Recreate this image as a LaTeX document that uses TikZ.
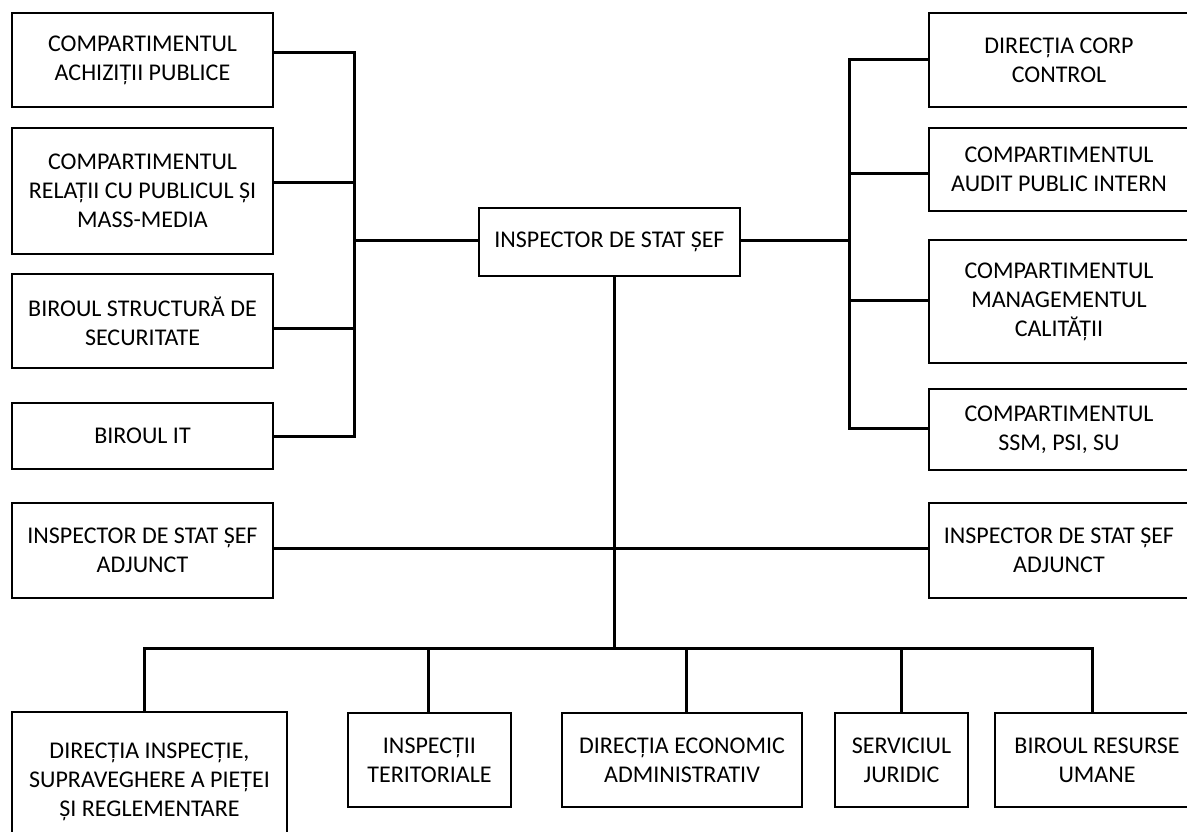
\documentclass[tikz,border=0pt]{standalone}
\usepackage{fontspec}
\setmainfont{Carlito}
\begin{document}
\begin{tikzpicture}[x=1pt,y=-1pt,
  box/.style={draw, line width=2pt, inner sep=0pt, align=center,
    font=\fontsize{24}{29}\selectfont},
  conn/.style={line width=3pt, line join=miter}]
\useasboundingbox (0,0) rectangle (1187,832);
% left column
\node[box, minimum width=261pt, minimum height=94pt]  (L1) at (142.5,60)  {COMPARTIMENTUL\\ACHIZIȚII PUBLICE};
\node[box, minimum width=261pt, minimum height=126pt] (L2) at (142.5,191) {COMPARTIMENTUL\\RELAȚII CU PUBLICUL ȘI\\MASS-MEDIA};
\node[box, minimum width=261pt, minimum height=94pt]  (L3) at (142.5,321) {BIROUL STRUCTURĂ DE\\SECURITATE};
\node[box, minimum width=261pt, minimum height=66pt]  (L4) at (142.5,436) {BIROUL IT};
% center
\node[box, minimum width=261pt, minimum height=68pt]  (C)  at (609.5,242) {INSPECTOR DE STAT ȘEF};
% right column
\node[box, minimum width=260pt, minimum height=94pt]  (R1) at (1059,60)    {DIRECȚIA CORP\\CONTROL};
\node[box, minimum width=260pt, minimum height=83pt]  (R2) at (1059,169.5) {COMPARTIMENTUL\\AUDIT PUBLIC INTERN};
\node[box, minimum width=260pt, minimum height=123pt] (R3) at (1059,301.5) {COMPARTIMENTUL\\MANAGEMENTUL\\CALITĂȚII};
\node[box, minimum width=260pt, minimum height=81pt]  (R4) at (1059,429.5) {COMPARTIMENTUL\\SSM, PSI, SU};
% adjuncts
\node[box, minimum width=261pt, minimum height=95pt]  (LA) at (142.5,550.5) {INSPECTOR DE STAT ȘEF\\ADJUNCT};
\node[box, minimum width=260pt, minimum height=95pt]  (RA) at (1059,550.5)  {INSPECTOR DE STAT ȘEF\\ADJUNCT};
% bottom row
\node[box, minimum width=275pt, minimum height=140pt] (B1) at (149.5,782) {DIRECȚIA INSPECȚIE,\\SUPRAVEGHERE A PIEȚEI\\ȘI REGLEMENTARE};
\node[box, minimum width=163pt, minimum height=94pt]  (B2) at (429.5,760) {INSPECȚII\\TERITORIALE};
\node[box, minimum width=240pt, minimum height=94pt]  (B3) at (682,760)   {DIRECȚIA ECONOMIC\\ADMINISTRATIV};
\node[box, minimum width=133pt, minimum height=94pt]  (B4) at (901.5,760) {SERVICIUL\\JURIDIC};
\node[box, minimum width=204pt, minimum height=94pt]  (B5) at (1097,760)  {BIROUL RESURSE\\UMANE};
% coordinates of connector junctions
\coordinate (lb1) at (354,53);
\coordinate (lb2) at (354,183);
\coordinate (lb3) at (354,328);
\coordinate (lb4) at (354,436);
\coordinate (lmid) at (354,240);
\coordinate (rb1) at (849,60);
\coordinate (rb2) at (849,174);
\coordinate (rb3) at (849,300);
\coordinate (rb4) at (849,428);
\coordinate (rmid) at (849,240);
\coordinate (trunk) at (614,648);
\coordinate (d1) at (144,648);
\coordinate (d2) at (428,648);
\coordinate (d3) at (686,648);
\coordinate (d4) at (901,648);
\coordinate (d5) at (1092,648);
% left connectors
\draw[conn] (L1.east |- lb1) -- (lb1) -- (lb4) -- (L4.east |- lb4);
\draw[conn] (L2.east |- lb2) -- (lb2);
\draw[conn] (L3.east |- lb3) -- (lb3);
\draw[conn] (lmid) -- (C.west |- lmid);
% right connectors
\draw[conn] (R1.west |- rb1) -- (rb1) -- (rb4) -- (R4.west |- rb4);
\draw[conn] (R2.west |- rb2) -- (rb2);
\draw[conn] (R3.west |- rb3) -- (rb3);
\draw[conn] (C.east |- rmid) -- (rmid);
% trunk and adjuncts
\draw[conn] (C.south -| trunk) -- (trunk);
\draw[conn] (LA.east |- 0,548) -- (RA.west |- 0,548);
% bottom bus
\draw[conn] (B1.north -| d1) -- (d1) -- (d5) -- (B5.north -| d5);
\draw[conn] (d2) -- (B2.north -| d2);
\draw[conn] (d3) -- (B3.north -| d3);
\draw[conn] (d4) -- (B4.north -| d4);
\end{tikzpicture}
\end{document}
